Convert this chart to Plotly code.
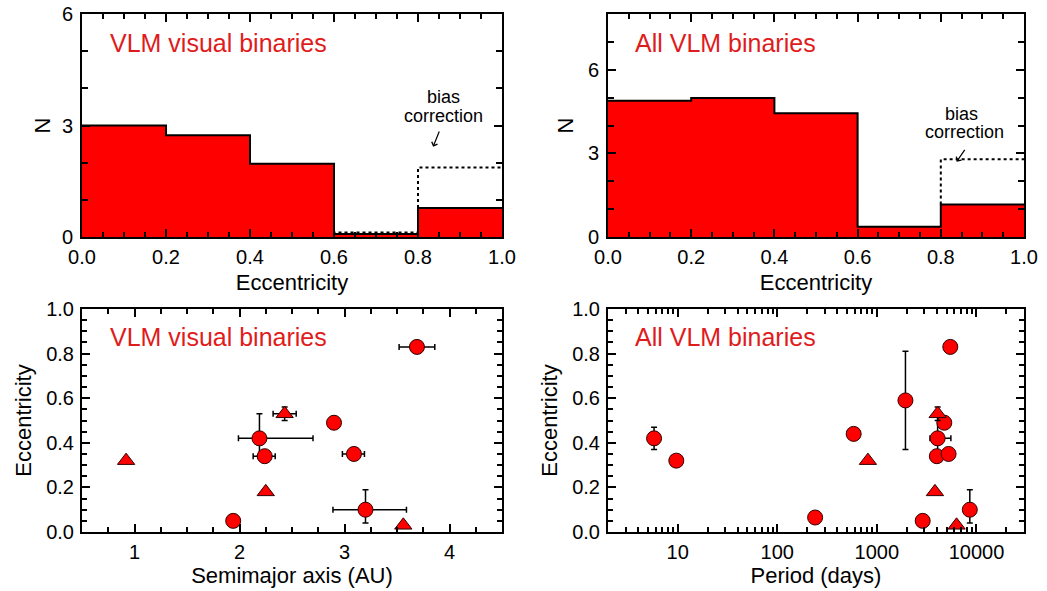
import plotly.graph_objects as go

# ---------------- data ----------------
ecc_edges = [0.0, 0.2, 0.4, 0.6, 0.8, 1.0]
n_visual = [3.00, 2.74, 1.97, 0.08, 0.78]
n_visual_bias = [3.00, 2.74, 1.97, 0.12, 1.87]
n_all = [4.89, 4.99, 4.44, 0.37, 1.17]
n_all_bias = [4.89, 4.99, 4.44, 0.37, 2.79]

# visual binaries: semimajor axis (AU) vs eccentricity
a_circ = [3.69, 2.19, 2.24, 2.90, 3.09, 3.20, 1.94]
e_circ_a = [0.83, 0.42, 0.34, 0.49, 0.35, 0.10, 0.05]
a_circ_errp = [0.17, 0.51, 0.10, 0.0, 0.10, 0.39, 0.0]
a_circ_errm = [0.17, 0.20, 0.11, 0.0, 0.11, 0.31, 0.0]
e_circ_a_errp = [0.0, 0.11, 0.0, 0.0, 0.0, 0.09, 0.0]
e_circ_a_errm = [0.0, 0.08, 0.0, 0.0, 0.0, 0.06, 0.0]

a_tri = [0.92, 2.43, 2.25, 3.56]
e_tri_a = [0.32, 0.53, 0.18, 0.03]
a_tri_err = [0.0, 0.11, 0.0, 0.0]
e_tri_a_err = [0.0, 0.03, 0.0, 0.0]

# all binaries: period (days) vs eccentricity
p_circ = [5.8, 9.7, 240, 585, 1936, 5458, 4074, 4000, 4753, 5248, 8570, 2884]
e_circ_p = [0.42, 0.32, 0.065, 0.44, 0.59, 0.83, 0.42, 0.34, 0.49, 0.35, 0.10, 0.05]
p_circ_errp = [0, 0, 0, 0, 0, 0, 1460, 0, 0, 0, 1200, 0]
p_circ_errm = [0, 0, 0, 0, 0, 0, 660, 0, 0, 0, 1000, 0]
e_circ_p_errp = [0.05, 0, 0, 0, 0.22, 0, 0.11, 0, 0, 0, 0.09, 0]
e_circ_p_errm = [0.05, 0, 0, 0, 0.22, 0, 0.08, 0, 0, 0, 0.06, 0]

p_tri = [813, 3828, 4074, 6310]
e_tri_p = [0.32, 0.18, 0.53, 0.03]
e_tri_p_err = [0.0, 0.0, 0.03, 0.0]

x_tick_ecc = [0.0, 0.2, 0.4, 0.6, 0.8, 1.0]
x_tick_ecc_text = ["0.0", "0.2", "0.4", "0.6", "0.8", "1.0"]
y_tick_n = [0, 3, 6]
x_tick_a = [1, 2, 3, 4]
x_tick_p = [10, 100, 1000, 10000]
x_tick_p_text = ["10", "100", "1000", "10000"]
y_tick_e = [0.0, 0.2, 0.4, 0.6, 0.8, 1.0]
y_tick_e_text = ["0.0", "0.2", "0.4", "0.6", "0.8", "1.0"]

# ---------------- style ----------------
W, H = 1047, 591
FONT = "Liberation Sans, Arial, Helvetica, sans-serif"
RED = "#ff0000"
TXTRED = "#e01b1b"

def px_x(p):
    return p / W

def px_y(p):
    return 1 - p / H

dom_x1 = [px_x(82), px_x(502)]
dom_x2 = [px_x(608), px_x(1024)]
dom_top = [px_y(237), px_y(14)]
dom_bot = [px_y(532), px_y(309)]

fig = go.Figure()

centers = [(ecc_edges[i] + ecc_edges[i + 1]) / 2 for i in range(len(ecc_edges) - 1)]

def add_hist(n, nbias, xa, ya):
    # dotted bias-corrected outline (only where different)
    bx, by = [], []
    for i in range(len(n)):
        if abs(nbias[i] - n[i]) > 1e-9:
            bx += [ecc_edges[i], ecc_edges[i], ecc_edges[i + 1], None]
            by += [n[i], nbias[i], nbias[i], None]
    fig.add_trace(go.Bar(x=centers, y=n, width=0.2, marker=dict(color=RED, line=dict(width=0)),
                         xaxis=xa, yaxis=ya, showlegend=False, hoverinfo="skip"))
    fig.add_trace(go.Scatter(x=bx, y=by, mode="lines", line=dict(color="black", width=2, dash="dot"),
                             xaxis=xa, yaxis=ya, showlegend=False, hoverinfo="skip", cliponaxis=False))
    fig.add_trace(go.Scatter(x=ecc_edges, y=n + [n[-1]], mode="lines", line=dict(color="black", width=2, shape="hv"),
                             xaxis=xa, yaxis=ya, showlegend=False, hoverinfo="skip"))

add_hist(n_visual, n_visual_bias, "x", "y")
add_hist(n_all, n_all_bias, "x2", "y2")

mk_circ = dict(symbol="circle", size=15, color=RED, line=dict(color="#300000", width=1))
mk_tri = dict(symbol="triangle-up", size=15, color=RED, line=dict(color="#300000", width=1))
err_style = dict(color="black", thickness=1.5, width=3)

fig.add_trace(go.Scatter(x=a_circ, y=e_circ_a, mode="markers", marker=mk_circ,
                         error_x=dict(type="data", symmetric=False, array=a_circ_errp, arrayminus=a_circ_errm, **err_style),
                         error_y=dict(type="data", symmetric=False, array=e_circ_a_errp, arrayminus=e_circ_a_errm, **err_style),
                         xaxis="x3", yaxis="y3", showlegend=False))
fig.add_trace(go.Scatter(x=a_tri, y=e_tri_a, mode="markers", marker=mk_tri,
                         error_x=dict(type="data", array=a_tri_err, **err_style),
                         error_y=dict(type="data", array=e_tri_a_err, **err_style),
                         xaxis="x3", yaxis="y3", showlegend=False))
fig.add_trace(go.Scatter(x=p_circ, y=e_circ_p, mode="markers", marker=mk_circ,
                         error_x=dict(type="data", symmetric=False, array=p_circ_errp, arrayminus=p_circ_errm, **err_style),
                         error_y=dict(type="data", symmetric=False, array=e_circ_p_errp, arrayminus=e_circ_p_errm, **err_style),
                         xaxis="x4", yaxis="y4", showlegend=False))
fig.add_trace(go.Scatter(x=p_tri, y=e_tri_p, mode="markers", marker=mk_tri,
                         error_y=dict(type="data", array=e_tri_p_err, **err_style),
                         xaxis="x4", yaxis="y4", showlegend=False))

tickfont = dict(family=FONT, size=20, color="black")
titlefont = dict(family=FONT, size=22, color="black")

def ax_common(**kw):
    d = dict(showline=True, linecolor="black", linewidth=2, mirror="allticks", ticks="inside",
             ticklen=8, tickwidth=1.5, tickcolor="black", showgrid=False, zeroline=False,
             tickfont=tickfont, automargin=False, fixedrange=True)
    d.update(kw)
    return d

minor_ecc = dict(dtick=0.05, ticklen=5, tickwidth=1.5, tickcolor="black", ticks="inside", showgrid=False)
minor_n = dict(dtick=1, ticklen=6, tickwidth=1.5, tickcolor="black", ticks="inside", showgrid=False)
minor_e = dict(dtick=0.05, ticklen=5, tickwidth=1.5, tickcolor="black", ticks="inside", showgrid=False)
minor_a = dict(dtick=0.25, tick0=0.5, ticklen=5, tickwidth=1.5, tickcolor="black", ticks="inside", showgrid=False)
minor_p_vals = [m * 10 ** k for k in range(0, 5) for m in range(2, 10) if 2 <= m * 10 ** k <= 30000]
minor_p = dict(tickmode="array", tickvals=minor_p_vals, ticklen=5, tickwidth=1.5, tickcolor="black",
               ticks="inside", showgrid=False)

fig.update_layout(
    width=W, height=H, margin=dict(l=0, r=0, t=0, b=0),
    paper_bgcolor="white", plot_bgcolor="white", bargap=0,
    font=dict(family=FONT, color="black"),
    xaxis=ax_common(domain=dom_x1, anchor="y", range=[0, 1], tickmode="array", tickvals=x_tick_ecc,
                    ticktext=x_tick_ecc_text, minor=minor_ecc, ticklabelstandoff=1,
                    title=dict(text="Eccentricity", font=titlefont, standoff=8)),
    yaxis=ax_common(domain=dom_top, anchor="x", range=[0, 6], tickmode="array", tickvals=y_tick_n,
                    minor=minor_n, ticklabelstandoff=3,
                    title=dict(text="N", font=titlefont, standoff=5)),
    xaxis2=ax_common(domain=dom_x2, anchor="y2", range=[0, 1], tickmode="array", tickvals=x_tick_ecc,
                     ticktext=x_tick_ecc_text, minor=minor_ecc, ticklabelstandoff=1,
                     title=dict(text="Eccentricity", font=titlefont, standoff=8)),
    yaxis2=ax_common(domain=dom_top, anchor="x2", range=[0, 8], tickmode="array", tickvals=y_tick_n,
                     minor=minor_n, ticklabelstandoff=3,
                     title=dict(text="N", font=titlefont, standoff=8)),
    xaxis3=ax_common(domain=dom_x1, anchor="y3", range=[0.5, 4.5], tickmode="array", tickvals=x_tick_a,
                     minor=minor_a, ticklabelstandoff=1,
                     title=dict(text="Semimajor axis (AU)", font=titlefont, standoff=6)),
    yaxis3=ax_common(domain=dom_bot, anchor="x3", range=[0, 1], tickmode="array", tickvals=y_tick_e,
                     ticktext=y_tick_e_text, minor=minor_e, ticklabelstandoff=2,
                     title=dict(text="Eccentricity", font=titlefont, standoff=8)),
    xaxis4=ax_common(domain=dom_x2, anchor="y4", type="log", range=[0.301, 4.477], tickmode="array",
                     tickvals=x_tick_p, ticktext=x_tick_p_text, minor=minor_p, ticklabelstandoff=1,
                     title=dict(text="Period (days)", font=titlefont, standoff=6)),
    yaxis4=ax_common(domain=dom_bot, anchor="x4", range=[0, 1], tickmode="array", tickvals=y_tick_e,
                     ticktext=y_tick_e_text, minor=minor_e, ticklabelstandoff=2,
                     title=dict(text="Eccentricity", font=titlefont, standoff=8)),
)

lab_font = dict(family=FONT, size=25, color=TXTRED)
bias_font = dict(family=FONT, size=18, color="black")
ann = []
for (xp, yp, txt) in [(108, 43, "VLM visual binaries"), (633, 43, "All VLM binaries"),
                      (108, 337, "VLM visual binaries"), (633, 337, "All VLM binaries")]:
    ann.append(dict(x=px_x(xp), y=px_y(yp), xref="paper", yref="paper", text=txt, showarrow=False,
                    xanchor="left", yanchor="middle", font=lab_font))
for (xp, yp, txt) in [(443, 97, "bias"), (443, 116, "correction"), (961, 114, "bias"), (964, 132, "correction")]:
    ann.append(dict(x=px_x(xp), y=px_y(yp), xref="paper", yref="paper", text=txt, showarrow=False,
                    xanchor="center", yanchor="middle", font=bias_font))
# arrows
ann.append(dict(x=0.836, y=2.43, ax=0.852, ay=2.88, xref="x", yref="y", axref="x", ayref="y", text="",
                showarrow=True, arrowhead=4, arrowsize=1, arrowwidth=1.2, arrowcolor="black"))
ann.append(dict(x=0.838, y=2.70, ax=0.860, ay=3.18, xref="x2", yref="y2", axref="x2", ayref="y2", text="",
                showarrow=True, arrowhead=4, arrowsize=1, arrowwidth=1.2, arrowcolor="black"))
fig.update_layout(annotations=ann)

fig.write_html("out.html")
